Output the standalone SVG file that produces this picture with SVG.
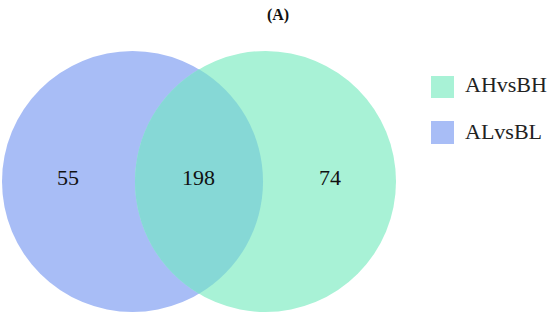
<svg xmlns="http://www.w3.org/2000/svg" width="550" height="317" viewBox="0 0 550 317">
<style>
.num{font-family:"Liberation Serif","Times New Roman",serif;font-size:22px;fill:#111;text-anchor:middle}
.leg{font-family:"Liberation Serif","Times New Roman",serif;font-size:22px;fill:#222}
.title{font-family:"Liberation Serif","Times New Roman",serif;font-size:16px;font-weight:bold;fill:#111;text-anchor:middle}
.blue{fill:#A8BDF6}
.green{fill:#A8F2D6}
.both{fill:#86D8D6}
</style>
<rect width="550" height="317" fill="#ffffff"/>
<text class="title" x="278" y="19.5">(A)</text>
<g id="set-ALvsBL"><circle class="blue" cx="132.5" cy="181.5" r="130.5"/></g>
<g id="set-AHvsBH"><circle class="green" cx="265.5" cy="181.5" r="130.5"/></g>
<g id="overlap"><path class="both" d="M199,69.2 A130.5,130.5 0 0 1 199,293.8 A130.5,130.5 0 0 1 199,69.2 Z"/></g>
<g id="labels">
<text class="num" x="68" y="185">55</text>
<text class="num" x="198.5" y="185">198</text>
<text class="num" x="330" y="185">74</text>
</g>
<g id="legend">
<g id="legend-AHvsBH"><rect class="green" x="431" y="76" width="23" height="22"/><text class="leg" x="465" y="92">AHvsBH</text></g>
<g id="legend-ALvsBL"><rect class="blue" x="431" y="121" width="23" height="23"/><text class="leg" x="465" y="139">ALvsBL</text></g>
</g>
<g id="connectors"/>
</svg>
